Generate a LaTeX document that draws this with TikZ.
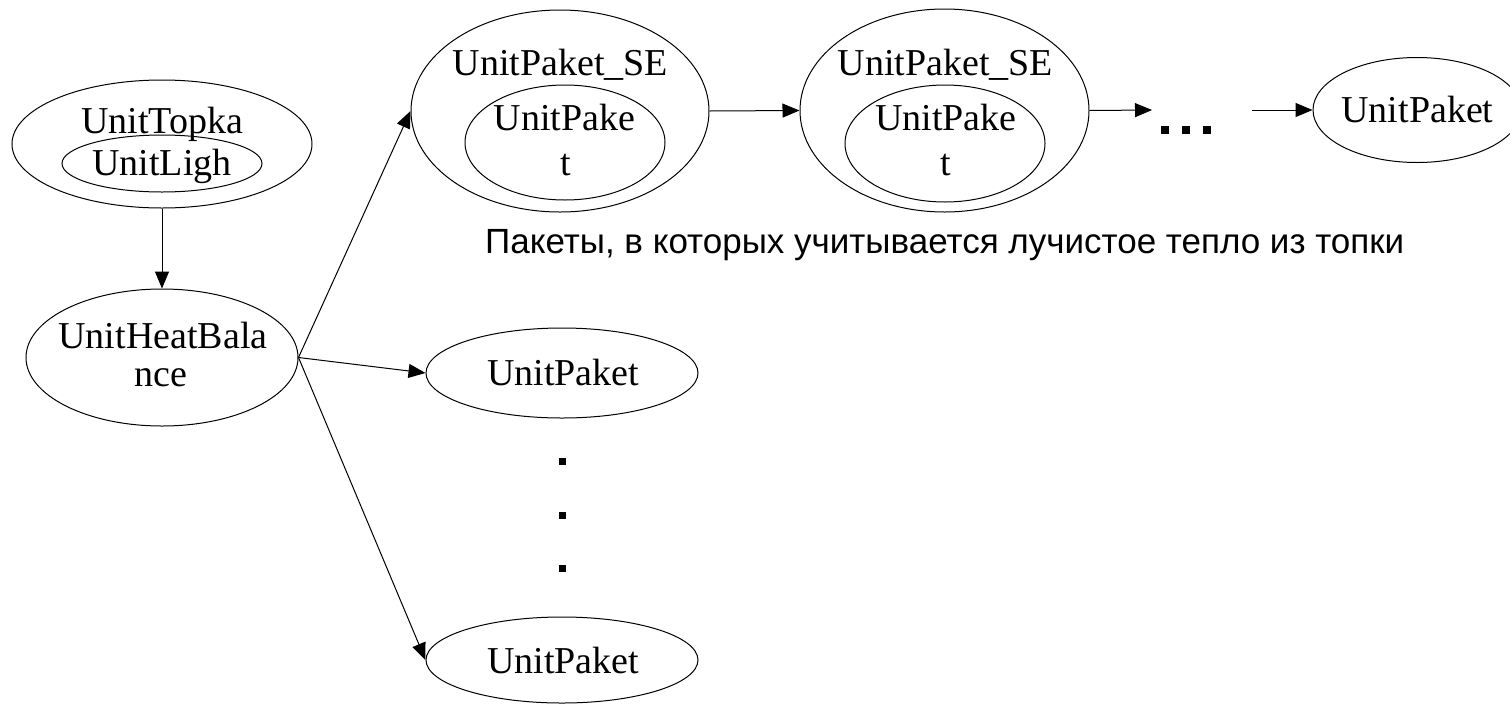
\documentclass[tikz,border=0pt]{standalone}
\usepackage{fontspec}
\usetikzlibrary{shapes.geometric,arrows.meta}
\newfontfamily\unitserif{Liberation Serif}
\newfontfamily\notesans{Liberation Sans}
\begin{document}
\begin{tikzpicture}[x=1pt,y=-1pt,
  unit/.style={draw, ellipse, inner sep=0pt, line width=1pt},
  lbl/.style={font=\unitserif\fontsize{38}{40}\selectfont, anchor=base, inner sep=0pt},
  arr/.style={-{Triangle[length=17pt,width=14pt]}, line width=1pt},
  sqdot/.style={fill=black, inner sep=0pt, minimum size=#1, draw=none, rectangle}
]
\useasboundingbox (0,0) rectangle (1510,705);

% furnace with the light unit inside
\node[unit, minimum width=300pt, minimum height=128pt] (topka) at (162,144) {};
\node[unit, minimum width=200pt, minimum height=57pt] (ligh) at (162,163.5) {};
\node[lbl] (topkaT) at (162,133) {UnitTopka};
\node[lbl] (lighT) at (162,175) {UnitLigh};

% heat balance
\node[unit, minimum width=272pt, minimum height=137pt] (heat) at (162,357.5) {};
\node[lbl] (heatT1) at (163,348) {UnitHeatBala};
\node[lbl] (heatT2) at (161,386) {nce};

% packets with radiant heat
\node[unit, minimum width=298pt, minimum height=202pt] (se1) at (560,111) {};
\node[unit, minimum width=200pt, minimum height=115pt] (se1in) at (565,142.5) {};
\node[lbl] (se1T) at (560.5,75) {UnitPaket\_SE};
\node[lbl] (se1inT1) at (564.5,130) {UnitPake};
\node[lbl] (se1inT2) at (566,175) {t};

\node[unit, minimum width=289pt, minimum height=203pt] (se2) at (944.5,110.5) {};
\node[unit, minimum width=200pt, minimum height=117pt] (se2in) at (945,143.5) {};
\node[lbl] (se2T) at (945.5,75) {UnitPaket\_SE};
\node[lbl] (se2inT1) at (946,130) {UnitPake};
\node[lbl] (se2inT2) at (946,175) {t};

\node[unit, minimum width=208pt, minimum height=105pt] (pkr) at (1417,110) {};
\node[lbl] (pkrT) at (1417.5,122) {UnitPaket};

% other packets
\node[unit, minimum width=272pt, minimum height=90pt] (pk1) at (562,373) {};
\node[lbl] (pk1T) at (563,385) {UnitPaket};
\node[unit, minimum width=272pt, minimum height=86pt] (pk2) at (562,660) {};
\node[lbl] (pk2T) at (563,673) {UnitPaket};

% ellipsis marks
\node[sqdot=8pt] (h1) at (1165,130) {};
\node[sqdot=8pt] (h2) at (1186,130) {};
\node[sqdot=8pt] (h3) at (1207,130) {};
\node[sqdot=7pt] (v1) at (562,461) {};
\node[sqdot=7pt] (v2) at (562,515) {};
\node[sqdot=7pt] (v3) at (562,568) {};

% caption
\node[font=\notesans\fontsize{35}{40}\selectfont, anchor=base west, inner sep=0pt] (note) at (485,253)
  {Пакеты, в которых учитывается лучистое тепло из топки};

% connectors
\coordinate (gapIn) at (1152,110);
\coordinate (gapOut) at (1252,110);
\draw[arr] (topka.south) -- (heat.north);
\draw[arr] (heat.east) -- (se1.west);
\draw[arr] (heat.east) -- (pk1.west);
\draw[arr] (heat.east) -- (pk2.west);
\draw[arr] (se1.east) -- (se2.west);
\draw[arr] (se2.east) -- (gapIn);
\draw[arr] (gapOut) -- (pkr.west);
\end{tikzpicture}
\end{document}
